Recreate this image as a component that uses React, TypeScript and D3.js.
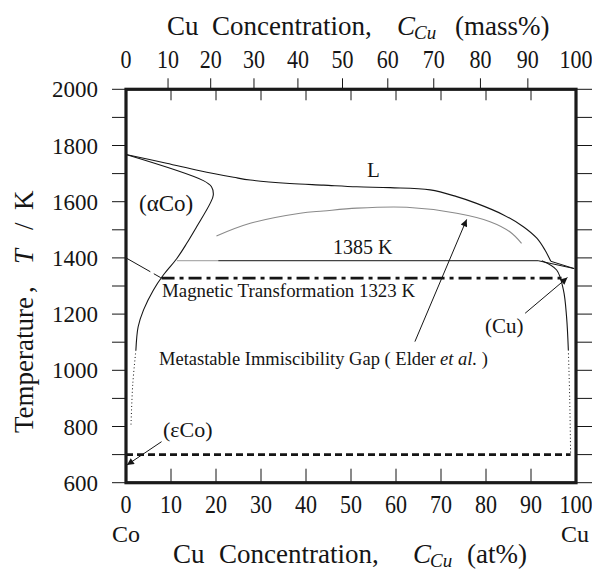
import React from 'react'
import * as d3 from 'd3'

// ---- data (at% Cu, temperature K) ----
const atTicks = [0, 10, 20, 30, 40, 50, 60, 70, 80, 90, 100]
const massTicks = [0, 10, 20, 30, 40, 50, 60, 70, 80, 90, 100]
const tempTicks = [600, 700, 800, 900, 1000, 1100, 1200, 1300, 1400, 1500, 1600, 1700, 1800, 1900, 2000]
const tempLabels = [600, 800, 1000, 1200, 1400, 1600, 1800, 2000]

const liquidus = [
  [0, 1768], [9, 1737], [16.4, 1710], [23.9, 1687], [27.6, 1677], [36.4, 1665],
  [43.9, 1659], [51.3, 1653], [58.7, 1650], [67.6, 1642], [73.5, 1618], [77.9, 1594],
  [83.9, 1553], [88.3, 1511], [91.3, 1470], [93.1, 1428], [94.4, 1388]
]
const liquidusToCu = [[94.4, 1388], [99.6, 1362]]
const cuSolidus = [[91.6, 1390], [99.6, 1362]]

const alphaBoundary = [
  [0, 1768], [17.2, 1675], [19, 1653], [19.4, 1624], [18.7, 1594], [15.7, 1511],
  [13.5, 1452], [11.3, 1398], [8.3, 1339], [6.1, 1286], [3.9, 1215], [2.7, 1155], [2.2, 1072]
]
const alphaDotted = [[2.2, 1072], [1.5, 950], [1.1, 800]]

const cuSolvus = [
  [92.4, 1390], [95.7, 1357], [97.2, 1286], [97.9, 1191], [98.3, 1072]
]
const cuDotted = [[98.3, 1072], [98.6, 900], [98.8, 705]]

const missGap = [
  [20.1, 1478], [27.6, 1523], [38.7, 1559], [43.9, 1567], [51.3, 1577], [62.4, 1580],
  [73.5, 1559], [80.9, 1529], [85.3, 1493], [87.9, 1452]
]

const periT = 1390
const periFrom = 11.3
const periGrayTo = 20.5
const periTo = 91.6
const magT = 1328
const magFrom = 7.9
const magTo = 97.9
const curieLine = [[0, 1400], [7.9, 1328]]
const epsT = 700
const epsTo = 98.8

const arrows = [
  { from: [64.2, 1102], to: [75.7, 1537] },
  { from: [88.7, 1203], to: [98.1, 1330] },
  { from: [7.9, 746], to: [0.2, 663] }
]

// mass% -> at% (Co 58.93, Cu 63.55)
const massToAt = (m: number) => {
  const cu = m / 63.55
  const co = (100 - m) / 58.93
  return (cu / (cu + co)) * 100
}

const FONT = "'Liberation Serif', 'Times New Roman', serif"

export default function App() {
  const left = 126
  const right = 576
  const top = 89.3
  const bottom = 482.7

  const x = d3.scaleLinear().domain([0, 100]).range([left, right])
  const y = d3.scaleLinear().domain([600, 2000]).range([bottom, top])

  const smooth = d3
    .line<number[]>()
    .curve(d3.curveCatmullRom.alpha(0.5))
    .x(d => x(d[0]))
    .y(d => y(d[1]))
  const straight = d3
    .line<number[]>()
    .x(d => x(d[0]))
    .y(d => y(d[1]))

  const ink = '#151515'

  return (
    <svg
      width={592}
      height={570}
      style={{ position: 'absolute', left: 0, top: 0, background: '#fff' }}
      fontFamily={FONT}
    >
      <defs>
        <marker
          id="ah"
          viewBox="0 0 10 10"
          refX="10"
          refY="5"
          markerWidth="11"
          markerHeight="7"
          markerUnits="userSpaceOnUse"
          orient="auto"
        >
          <path d="M0,0 L10,5 L0,10 z" fill={ink} />
        </marker>
      </defs>

      {/* top title */}
      <text y={35} fontSize={27} fill={ink}>
        <tspan x={167}>Cu</tspan>
        <tspan x={212}>Concentration</tspan>
        <tspan x={365}>,</tspan>
        <tspan x={397} fontStyle="italic">C</tspan>
        <tspan x={414} dy={4} fontSize={19} fontStyle="italic">Cu</tspan>
        <tspan x={455} dy={-4}>(mass%)</tspan>
      </text>

      {/* top mass% labels + ticks */}
      {massTicks.map(m => (
        <text
          key={'ml' + m}
          transform={`translate(${x(massToAt(m))},68) scale(0.88,1)`}
          textAnchor="middle"
          fontSize={25}
          fill={ink}
        >
          {m}
        </text>
      ))}
      {massTicks.slice(1, -1).map(m => (
        <line
          key={'mt' + m}
          x1={x(massToAt(m))}
          x2={x(massToAt(m))}
          y1={top}
          y2={top - 11}
          stroke={ink}
          strokeWidth={1}
        />
      ))}

      {/* at% ticks top and bottom (inside) */}
      {atTicks.slice(1, -1).map(a => (
        <g key={'at' + a}>
          <line x1={x(a)} x2={x(a)} y1={top} y2={top + 11} stroke={ink} strokeWidth={1} />
          <line x1={x(a)} x2={x(a)} y1={bottom} y2={bottom - 14} stroke={ink} strokeWidth={1} />
        </g>
      ))}
      {atTicks.map(a => (
        <text
          key={'al' + a}
          transform={`translate(${x(a)},513) scale(0.88,1)`}
          textAnchor="middle"
          fontSize={25}
          fill={ink}
        >
          {a}
        </text>
      ))}
      <text x={126} y={542} textAnchor="middle" fontSize={24} fill={ink}>Co</text>
      <text x={575} y={542} textAnchor="middle" fontSize={24} fill={ink}>Cu</text>

      {/* bottom title */}
      <text y={563} fontSize={27} fill={ink}>
        <tspan x={173}>Cu</tspan>
        <tspan x={219}>Concentration</tspan>
        <tspan x={372}>,</tspan>
        <tspan x={413} fontStyle="italic">C</tspan>
        <tspan x={430} dy={4} fontSize={19} fontStyle="italic">Cu</tspan>
        <tspan x={467} dy={-4}>(at%)</tspan>
      </text>

      {/* temperature ticks */}
      {tempTicks.map(t => (
        <g key={'tt' + t}>
          <line x1={left - 14} x2={left} y1={y(t)} y2={y(t)} stroke={ink} strokeWidth={1} />
          <line x1={right} x2={right + 16} y1={y(t)} y2={y(t)} stroke={ink} strokeWidth={1} />
        </g>
      ))}
      {tempLabels.map(t => (
        <text key={'tl' + t} x={98} y={y(t) + 8} textAnchor="end" fontSize={23} fill={ink}>
          {t}
        </text>
      ))}

      {/* y title */}
      <g transform="translate(33,433) rotate(-90)">
        <text fontSize={27} fill={ink}>
          <tspan x={0}>Temperature</tspan>
          <tspan x={140}>,</tspan>
          <tspan x={169} fontStyle="italic">T</tspan>
          <tspan x={203}>/</tspan>
          <tspan x={223}>K</tspan>
        </text>
      </g>

      {/* phase boundaries */}
      <path d={smooth(liquidus) || ''} fill="none" stroke={ink} strokeWidth={1.1} />
      <path d={straight(liquidusToCu) || ''} fill="none" stroke={ink} strokeWidth={1} />
      <path d={straight(cuSolidus) || ''} fill="none" stroke={ink} strokeWidth={1} />
      <path d={smooth(alphaBoundary) || ''} fill="none" stroke={ink} strokeWidth={1.1} />
      <path d={smooth(alphaDotted) || ''} fill="none" stroke={ink} strokeWidth={1} strokeDasharray="1 2.5" />
      <path d={smooth(cuSolvus) || ''} fill="none" stroke={ink} strokeWidth={1.1} />
      <path d={smooth(cuDotted) || ''} fill="none" stroke={ink} strokeWidth={1} strokeDasharray="1 2.5" />
      <path d={smooth(missGap) || ''} fill="none" stroke="#8a8a8a" strokeWidth={1.1} />

      {/* peritectic 1385 K */}
      <line x1={x(periFrom)} x2={x(periGrayTo)} y1={y(periT)} y2={y(periT)} stroke="#9a9a9a" strokeWidth={1} />
      <line x1={x(periGrayTo)} x2={x(periTo)} y1={y(periT)} y2={y(periT)} stroke={ink} strokeWidth={1} />

      {/* magnetic transformation */}
      <path d={straight(curieLine) || ''} fill="none" stroke={ink} strokeWidth={1} strokeDasharray="28 4 8 40" />
      <line
        x1={x(magFrom)}
        x2={x(magTo)}
        y1={y(magT)}
        y2={y(magT)}
        stroke={ink}
        strokeWidth={2.6}
        strokeDasharray="13 5 4 5"
      />

      {/* eps-Co transformation */}
      <line
        x1={x(0)}
        x2={x(epsTo)}
        y1={y(epsT)}
        y2={y(epsT)}
        stroke={ink}
        strokeWidth={2.8}
        strokeDasharray="7 4"
      />

      {/* arrows */}
      {arrows.map((a, i) => (
        <line
          key={'ar' + i}
          x1={x(a.from[0])}
          y1={y(a.from[1])}
          x2={x(a.to[0])}
          y2={y(a.to[1])}
          stroke={ink}
          strokeWidth={1}
          markerEnd="url(#ah)"
        />
      ))}

      {/* labels */}
      <text x={139} y={211} fontSize={23} fill={ink}>(αCo)</text>
      <text x={367} y={177} fontSize={21} fill={ink}>L</text>
      <text x={333} y={254} fontSize={20} fill={ink}>1385 K</text>
      <text x={162} y={297} fontSize={18.5} fill={ink} textLength={253} lengthAdjust="spacingAndGlyphs">
        Magnetic Transformation 1323 K
      </text>
      <text x={159} y={365} fontSize={18.5} fill={ink}>
        Metastable Immiscibility Gap ( Elder <tspan fontStyle="italic">et al.</tspan> )
      </text>
      <text x={485} y={333} fontSize={21} fill={ink}>(Cu)</text>
      <text x={163} y={437} fontSize={22} fill={ink}>(εCo)</text>

      {/* frame */}
      <rect x={left} y={top} width={right - left} height={bottom - top} fill="none" stroke="#1a1a1a" strokeWidth={3.2} />
    </svg>
  )
}
